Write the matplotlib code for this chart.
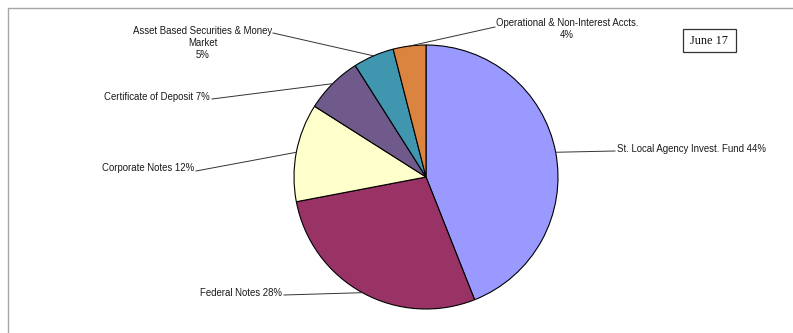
import numpy as np
import matplotlib.pyplot as plt
from matplotlib.patches import Rectangle
from matplotlib.lines import Line2D

# Portfolio mix by investment type
categories = [
    'St. Local Agency Invest. Fund',
    'Federal Notes',
    'Corporate Notes',
    'Certificate of Deposit',
    'Asset Based Securities & Money\nMarket',
    'Operational & Non-Interest Accts.',
]
shares = [44, 28, 12, 7, 5, 4]
colors = ['#9999FF', '#993366', '#FFFFCC', '#705A8C', '#4096AF', '#DB843F']
date_label = 'June 17'

W, H = 793, 333
PIE_CENTER = (426, 177)
PIE_RADIUS = 132

# (text x, text y, alignment, leader start x, leader start y, label on two lines)
label_layout = [
    (617, 149, 'left', 615, 151, False),
    (282, 293, 'right', 284, 295, False),
    (194, 168, 'right', 196, 171, False),
    (210, 97, 'right', 212, 99, False),
    (203, 43, 'center', 273, 33, True),
    (567, 29.5, 'center', 495, 27, True),
]


def fy(y):
    # pixel rows are counted from the top
    return H - y


fig = plt.figure(figsize=(W / 100, H / 100), dpi=100)
ax = fig.add_axes([0, 0, 1, 1])

wedges, _ = ax.pie(
    shares,
    colors=colors,
    startangle=90,
    counterclock=False,
    center=(PIE_CENTER[0], fy(PIE_CENTER[1])),
    radius=PIE_RADIUS,
    wedgeprops=dict(edgecolor='black', linewidth=0.8),
    frame=True,
)
ax.set_xlim(0, W)
ax.set_ylim(0, H)
ax.set_aspect('equal')
ax.axis('off')

font = dict(family=['Liberation Sans', 'DejaVu Sans'], size=6.9, color='#1a1a1a')

for wedge, name, pct, layout in zip(wedges, categories, shares, label_layout):
    tx, ty, ha, lx, ly, two_line = layout
    mid = np.deg2rad((wedge.theta1 + wedge.theta2) / 2)
    ex = PIE_CENTER[0] + PIE_RADIUS * np.cos(mid)
    ey = fy(PIE_CENTER[1]) + PIE_RADIUS * np.sin(mid)
    ax.plot([lx, ex], [fy(ly), ey], color='#333333', linewidth=0.7)
    text = f'{name}\n{pct}%' if two_line else f'{name} {pct}%'
    ax.text(tx, fy(ty), text, ha=ha, va='center', multialignment='center',
            linespacing=1.25, **font)

# date box in the upper right
ax.add_patch(Rectangle((683, fy(52)), 53, 23, facecolor='white',
                       edgecolor='#333333', linewidth=0.9))
ax.text(709.5, fy(40.5), date_label, ha='center', va='center',
        family=['Liberation Serif', 'DejaVu Serif'], size=8.8, color='#111111')

# outer frame: top and left edges only
fig.add_artist(Line2D([8 / W, 8 / W, 1], [0, 1 - 8 / H, 1 - 8 / H],
                      color='#a6a6a6', linewidth=1.0))

fig.savefig('out.png', dpi=100)
